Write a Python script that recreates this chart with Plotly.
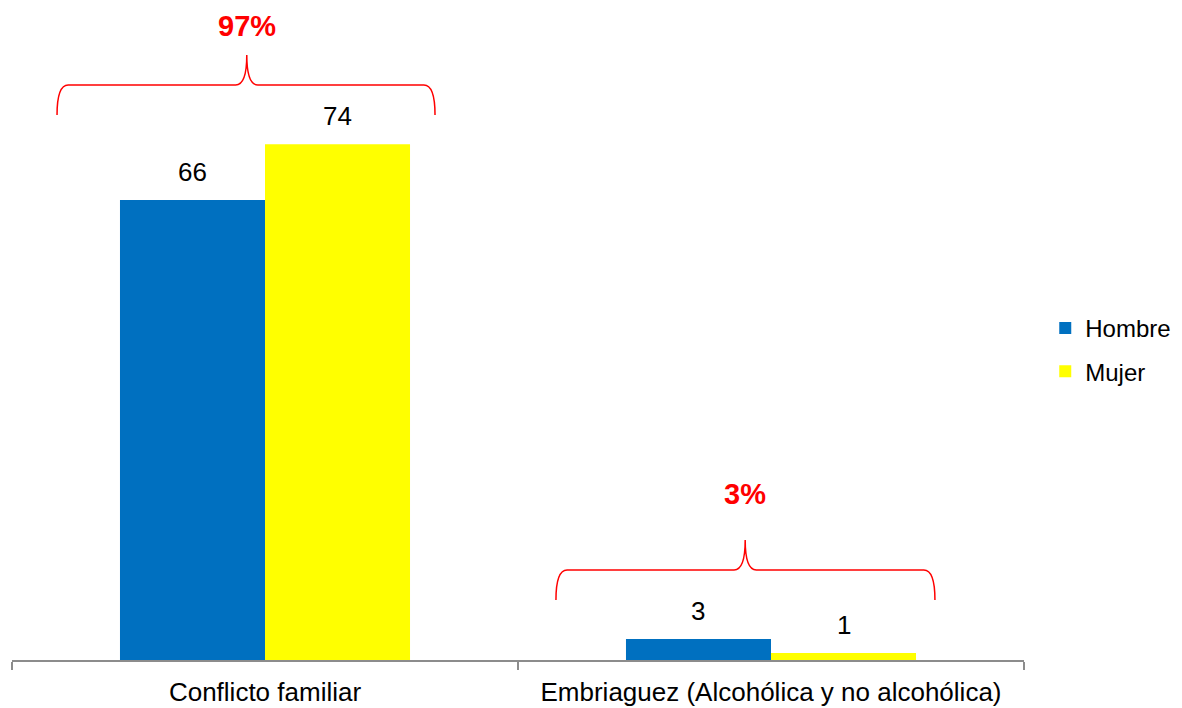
import plotly.graph_objects as go

categories = ["Conflicto familiar", "Embriaguez (Alcohólica y no alcohólica)"]
hombre = [66, 3]
mujer = [74, 1]
group_pct = ["97%", "3%"]

BLUE = "#0070C0"
YELLOW = "#FFFF00"
RED = "#FF0000"
FONT = "Liberation Sans, Arial, sans-serif"

x_idx = list(range(len(categories)))
bar_w = 0.2866

fig = go.Figure()
fig.add_trace(go.Bar(x=x_idx, y=hombre, name="Hombre", marker=dict(color=BLUE, line=dict(width=0)),
                     offset=-bar_w, width=bar_w, legendgroup="h"))
fig.add_trace(go.Bar(x=x_idx, y=mujer, name="Mujer", marker=dict(color=YELLOW, line=dict(width=0)),
                     offset=0, width=bar_w, legendgroup="m"))

annotations = []
# value labels above each bar
for i in x_idx:
    for vals, off in ((hombre, -bar_w / 2), (mujer, bar_w / 2)):
        annotations.append(dict(x=i + off, y=vals[i], text=str(vals[i]), showarrow=False,
                                yanchor="bottom", yshift=11, xref="x", yref="y",
                                font=dict(family=FONT, size=26, color="#000000")))


def brace_path(x0, x1, xm, y_end, y_bar, y_tip, dx=0.022):
    return (f"M {x0},{y_end} Q {x0},{y_bar} {x0 + dx},{y_bar} "
            f"L {xm - dx},{y_bar} Q {xm},{y_bar} {xm},{y_tip} "
            f"Q {xm},{y_bar} {xm + dx},{y_bar} "
            f"L {x1 - dx},{y_bar} Q {x1},{y_bar} {x1},{y_end}")


# braces grouping both bars of each category, with the share above
braces = [
    dict(x0=-0.411, x1=0.336, xm=-0.036, y_end=78.2, y_bar=82.5, y_tip=86.8, ty=91.0),
    dict(x0=0.575, x1=1.324, xm=0.949, y_end=8.6, y_bar=12.9, y_tip=17.2, ty=23.8),
]
shapes = []
for b, pct in zip(braces, group_pct):
    shapes.append(dict(type="path", xref="x", yref="y",
                       path=brace_path(b["x0"], b["x1"], b["xm"], b["y_end"], b["y_bar"], b["y_tip"]),
                       line=dict(color=RED, width=1.5)))
    annotations.append(dict(x=b["xm"], y=b["ty"], text=f"<b>{pct}</b>", showarrow=False,
                            xref="x", yref="y", font=dict(family=FONT, size=29, color=RED)))

fig.update_layout(
    width=1182, height=708,
    margin=dict(l=12, r=158, t=10, b=48, autoexpand=False),
    paper_bgcolor="white", plot_bgcolor="white",
    barmode="overlay",
    showlegend=True,
    legend=dict(x=1.021, xanchor="left", y=0.477, yanchor="middle",
                font=dict(family=FONT, size=24, color="#000000"),
                tracegroupgap=9, itemwidth=30, bgcolor="rgba(0,0,0,0)"),
    xaxis=dict(range=[-0.5, 1.5], tickmode="array", tickvals=x_idx, ticktext=categories,
               ticks="", showline=True, linecolor="#8c8c8c", linewidth=1.5,
               showgrid=False, zeroline=False, ticklabelstandoff=8,
               tickfont=dict(family=FONT, size=26, color="#000000"),
               minor=dict(ticks="outside", tick0=-0.5, dtick=1, ticklen=8,
                          tickcolor="#8c8c8c", tickwidth=1.5, showgrid=False)),
    yaxis=dict(range=[0, 93.26], visible=False, showgrid=False, zeroline=False),
    shapes=shapes,
    annotations=annotations,
)

fig.write_html("out.html")
